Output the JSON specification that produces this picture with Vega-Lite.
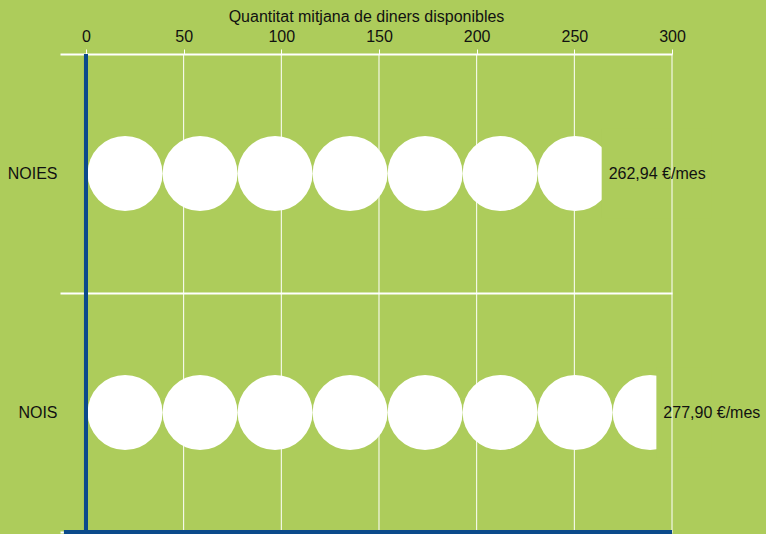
{
  "$schema": "https://vega.github.io/schema/vega-lite/v6.json",
  "autosize": "none",
  "width": 612,
  "height": 478,
  "padding": {"left": 60, "top": 54, "right": 94, "bottom": 2},
  "background": "#adcc5b",
  "config": {
    "view": {"stroke": null},
    "font": "Liberation Sans",
    "text": {"font": "Liberation Sans"}
  },
  "datasets": {
    "cercles": [
      {"fila": "NOIES", "centre": 20},
      {"fila": "NOIES", "centre": 58.4},
      {"fila": "NOIES", "centre": 96.8},
      {"fila": "NOIES", "centre": 135.2},
      {"fila": "NOIES", "centre": 173.6},
      {"fila": "NOIES", "centre": 212},
      {"fila": "NOIES", "centre": 250.4},
      {"fila": "NOIS", "centre": 20},
      {"fila": "NOIS", "centre": 58.4},
      {"fila": "NOIS", "centre": 96.8},
      {"fila": "NOIS", "centre": 135.2},
      {"fila": "NOIS", "centre": 173.6},
      {"fila": "NOIS", "centre": 212},
      {"fila": "NOIS", "centre": 250.4},
      {"fila": "NOIS", "centre": 288.8}
    ],
    "files": [
      {"fila": "NOIES", "mitjana": 262.94, "tall": 264, "etiqueta": "262,94 €/mes"},
      {"fila": "NOIS", "mitjana": 277.90, "tall": 292, "etiqueta": "277,90 €/mes"}
    ],
    "marques": [
      {"v": 0}, {"v": 50}, {"v": 100}, {"v": 150}, {"v": 200}, {"v": 250}, {"v": 300}
    ]
  },
  "layer": [
    {
      "data": {"name": "cercles"},
      "mark": {"type": "point", "shape": "circle", "filled": true, "opacity": 1, "color": "#ffffff", "size": 5625, "strokeWidth": 0},
      "encoding": {
        "x": {
          "field": "centre", "type": "quantitative",
          "scale": {"domain": [-13.3, 300], "nice": false, "zero": false},
          "axis": {
            "orient": "top",
            "title": "Quantitat mitjana de diners disponibles",
            "titleFont": "Liberation Sans",
            "titleFontSize": 16,
            "titleFontWeight": "normal",
            "titleColor": "#111111",
            "titlePadding": 4,
            "values": [0, 50, 100, 150, 200, 250, 300],
            "labelFont": "Liberation Sans",
            "labelFontSize": 16,
            "labelColor": "#111111",
            "labelPadding": 5,
            "labelFlush": false,
            "tickColor": "#ffffff",
            "tickSize": 5,
            "tickWidth": 1,
            "domain": false,
            "grid": false
          }
        },
        "y": {
          "field": "fila", "type": "nominal",
          "scale": {"domain": ["NOIES", "NOIS"], "paddingInner": 0, "paddingOuter": 0},
          "axis": {
            "title": null,
            "labelFont": "Liberation Sans",
            "labelFontSize": 16,
            "labelColor": "#111111",
            "labelPadding": 3,
            "ticks": false,
            "tickSize": 0,
            "domain": false,
            "grid": true,
            "tickBand": "extent",
            "gridColor": "#ffffff",
            "gridWidth": 2,
            "gridOpacity": 1
          }
        }
      }
    },
    {
      "data": {"name": "files"},
      "mark": {"type": "bar", "color": "#adcc5b", "height": 90},
      "encoding": {
        "x": {"field": "tall", "type": "quantitative"},
        "x2": {"datum": 320},
        "y": {"field": "fila", "type": "nominal"}
      }
    },
    {
      "data": {"name": "marques"},
      "mark": {"type": "rule", "color": "#ffffff", "strokeWidth": 1},
      "encoding": {
        "x": {"field": "v", "type": "quantitative"}
      }
    },
    {
      "data": {"name": "files"},
      "mark": {"type": "rule", "color": "#0b4a8b", "strokeWidth": 4},
      "encoding": {
        "x": {"datum": 0}
      }
    },
    {
      "data": {"values": [{"fila": "NOIS"}]},
      "mark": {"type": "rule", "color": "#0b4a8b", "strokeWidth": 4},
      "encoding": {
        "x": {"datum": -11.3},
        "x2": {"datum": 300},
        "y": {"field": "fila", "type": "nominal", "bandPosition": 1}
      }
    },
    {
      "data": {"name": "files"},
      "mark": {"type": "text", "align": "left", "baseline": "middle", "dx": 7, "font": "Liberation Sans", "fontSize": 16, "color": "#111111"},
      "encoding": {
        "x": {"field": "tall", "type": "quantitative"},
        "y": {"field": "fila", "type": "nominal"},
        "text": {"field": "etiqueta", "type": "nominal"}
      }
    }
  ]
}
